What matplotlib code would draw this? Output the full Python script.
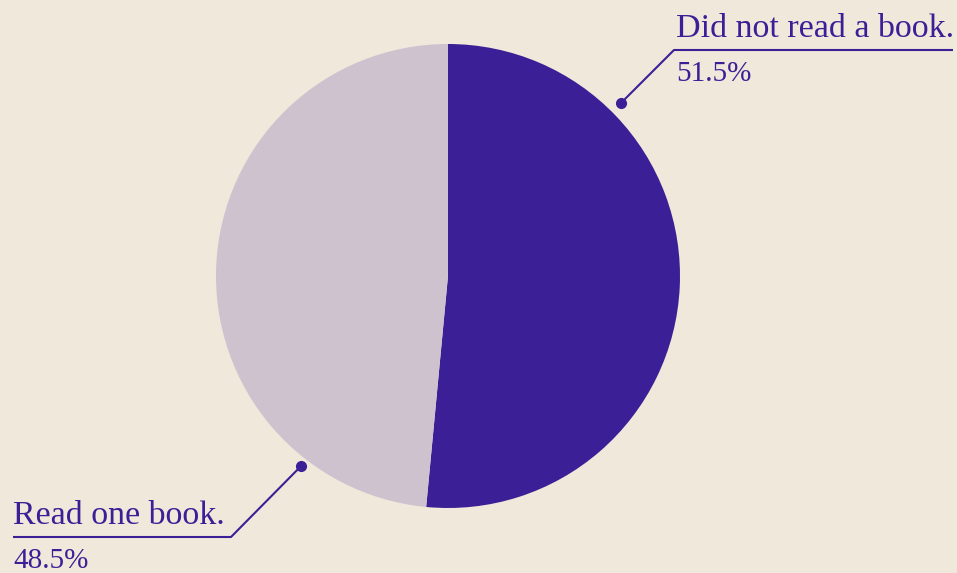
import numpy as np
import matplotlib.pyplot as plt

labels = ["Did not read a book.", "Read one book."]
shares = [51.5, 48.5]
colors = ["#3B1F96", "#CEC2CF"]
ink = "#3B1F96"
bg = "#F0E8DA"

fig = plt.figure(figsize=(9.57, 5.73), dpi=100, facecolor=bg)
ax = fig.add_axes([0, 0, 1, 1])
ax.set_facecolor(bg)

cx, cy, r = 448, 297, 232
ax.pie(shares, colors=colors, startangle=90, counterclock=False,
       center=(cx, cy), radius=r, wedgeprops=dict(linewidth=0))

ax.set_xlim(0, 957)
ax.set_ylim(0, 573)
ax.set_aspect("equal")
ax.axis("off")

font = dict(family="Liberation Serif", color=ink)

# leader line: dot near the pie edge, diagonal, then a rule under the label
def callout(angle, dist, knee, x_end, label, pct, text_x):
    a = np.radians(angle)
    dx, dy = cx + dist * np.cos(a), cy + dist * np.sin(a)
    ax.plot([dx, knee[0], x_end], [dy, knee[1], knee[1]], color=ink, lw=1.5,
            solid_capstyle="butt")
    ax.plot(dx, dy, "o", color=ink, ms=7)
    ax.text(text_x, knee[1] + 13, label, ha="left", va="baseline",
            fontsize=24.5, **font)
    ax.text(text_x, knee[1] - 11, pct, ha="left", va="top",
            fontsize=21, **font)

callout(45, 245, (674, 523), 953, labels[0], "%.1f%%" % shares[0], 676)
callout(-127.7, 240, (231, 36), 13, labels[1], "%.1f%%" % shares[1], 13)

fig.savefig("out.png", dpi=100, facecolor=bg)
